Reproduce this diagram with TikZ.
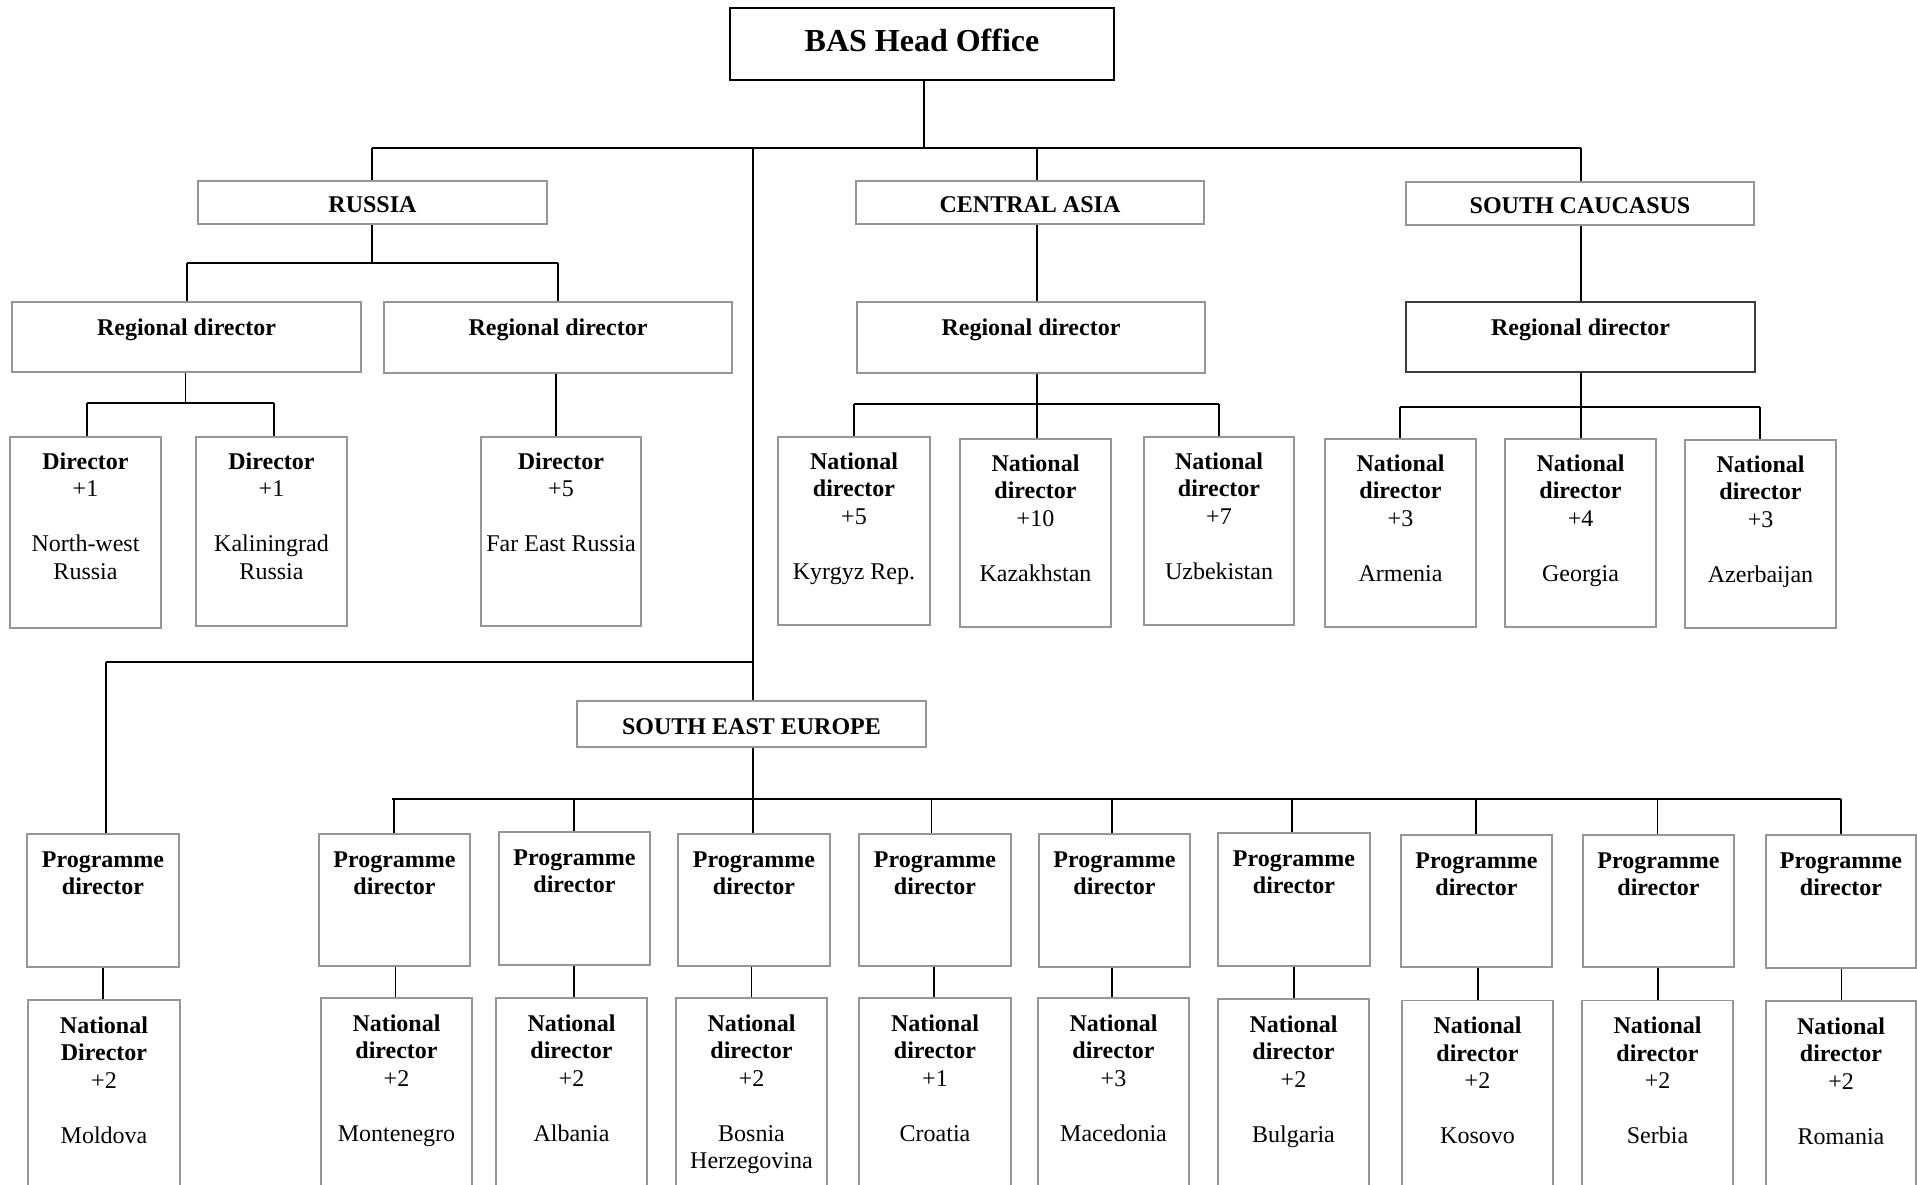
\documentclass[tikz,border=0pt]{standalone}
\usepackage{fontspec}
\setmainfont{Liberation Serif}
\usetikzlibrary{fit}
\definecolor{boxgray}{RGB}{150,150,150}
\definecolor{darkgray}{RGB}{60,60,60}
\newcommand\bx[6][box]{\node[#1, fit={(#3,#4) (#5,#6)}] (#2) {};}
\newcommand\tx[3][17]{\node[lbl] (#2-t) at ([yshift=-#1pt]#2.north) {#3};}
\newcommand\vlink[3]{\draw[conn] (#1.south -| #3,0) -- (#2.north -| #3,0);}
\newcommand\drop[3]{\draw[conn] (#1 -| #3,0) -- (#2.north -| #3,0);}
\tikzset{
  box/.style={draw=boxgray, line width=1.4pt, inner sep=0pt},
  darkbox/.style={draw=darkgray, line width=2.2pt, inner sep=0pt},
  headbox/.style={draw=black, line width=2pt, inner sep=0pt},
  conn/.style={draw=black, line width=1.6pt},
  bus/.style={draw=black, line width=2.4pt},
  lbl/.style={align=center, inner sep=0pt, anchor=north, font=\fontsize{24}{27.5}\selectfont},
  hdr/.style={inner sep=0pt, font=\fontsize{24}{27.5}\selectfont\bfseries},
}
\begin{document}
\begin{tikzpicture}[x=1pt,y=-1pt]
\useasboundingbox (0,0) rectangle (1917,1185);
\clip (0,0) rectangle (1917,1185);
% ---------- top ----------
\bx[headbox]{ho}{730}{8}{1114}{80}
\node[hdr, font=\fontsize{32}{36}\selectfont\bfseries] (ho-t) at ([yshift=4pt]ho.center) {BAS Head Office};
\bx{ru}{198}{181}{547}{224}
\node[hdr] (ru-t) at ([yshift=-2.5pt]ru.center) {RUSSIA};
\bx{ca}{856}{181}{1204}{224}
\node[hdr] (ca-t) at ([yshift=-2.5pt]ca.center) {CENTRAL ASIA};
\bx{sc}{1406}{182}{1754}{225}
\node[hdr] (sc-t) at ([yshift=-2.5pt]sc.center) {SOUTH CAUCASUS};
\bx{see}{577}{701}{926}{747}
\node[hdr] (see-t) at ([yshift=-2.5pt]see.center) {SOUTH EAST EUROPE};

\coordinate (tbL) at (372,148);
\coordinate (tbR) at (1581,148);
\coordinate (tbH) at (924,148);
\coordinate (tbS) at (753,148);
\coordinate (tbC) at (1037,148);
\draw[bus] (tbL) -- (tbR);
\draw[conn] (ho.south -| tbH) -- (tbH);
\draw[conn] (tbL) -- (tbL |- ru.north);
\draw[conn] (tbC) -- (tbC |- ca.north);
\draw[conn] (tbR) -- (tbR |- sc.north);
\draw[conn] (tbS) -- (tbS |- see.north);

% ---------- Russia ----------
\bx{rd1}{12}{302}{361}{372}
\tx{rd1}{\textbf{Regional director}}
\bx{rd2}{384}{302}{732}{373}
\tx{rd2}{\textbf{Regional director}}
\coordinate (rbL) at (187,263);
\coordinate (rbR) at (558,263);
\coordinate (rbM) at (372,263);
\draw[conn] (ru.south -| rbM) -- (rbM);
\draw[bus] (rbL) -- (rbR);
\drop{rbL}{rd1}{187}
\drop{rbR}{rd2}{558}
\bx{d1}{10}{437}{161}{628}
\tx[16]{d1}{\textbf{Director}\\+1\\[27.5pt]North-west\\Russia}
\bx{d2}{196}{437}{347}{626}
\tx[16]{d2}{\textbf{Director}\\+1\\[27.5pt]Kaliningrad\\Russia}
\bx{d3}{481}{437}{641}{626}
\tx[16]{d3}{\textbf{Director}\\+5\\[27.5pt]Far East Russia}
\coordinate (dbL) at (87,403);
\coordinate (dbR) at (274,403);
\coordinate (dbM) at (185.5,403);
\draw[conn] (rd1.south -| dbM) -- (dbM);
\draw[bus] (dbL) -- (dbR);
\drop{dbL}{d1}{87}
\drop{dbR}{d2}{274}
\vlink{rd2}{d3}{556}

% ---------- Central Asia ----------
\bx{rdca}{857}{302}{1205}{373}
\tx{rdca}{\textbf{Regional director}}
\vlink{ca}{rdca}{1037}
\coordinate (cbL) at (854,404);
\coordinate (cbR) at (1219,404);
\coordinate (cbM) at (1037,404);
\draw[conn] (rdca.south -| cbM) -- (cbM);
\draw[bus] (cbL) -- (cbR);
\bx{ca1}{778}{437}{930}{625}
\tx[16]{ca1}{\textbf{National}\\\textbf{director}\\+5\\[27.5pt]Kyrgyz Rep.}
\bx{ca2}{960}{439}{1111}{627}
\tx[16]{ca2}{\textbf{National}\\\textbf{director}\\+10\\[27.5pt]Kazakhstan}
\bx{ca3}{1144}{437}{1294}{625}
\tx[16]{ca3}{\textbf{National}\\\textbf{director}\\+7\\[27.5pt]Uzbekistan}
\drop{cbL}{ca1}{854}
\drop{cbM}{ca2}{1037}
\drop{cbR}{ca3}{1219}

% ---------- South Caucasus ----------
\bx[darkbox]{rdsc}{1406}{302}{1755}{372}
\tx[18]{rdsc}{\textbf{Regional director}}
\vlink{sc}{rdsc}{1581}
\coordinate (sbL) at (1400,407);
\coordinate (sbR) at (1760,407);
\coordinate (sbM) at (1581,407);
\draw[conn] (rdsc.south -| sbM) -- (sbM);
\draw[bus] (sbL) -- (sbR);
\bx{sc1}{1325}{439}{1476}{627}
\tx[16]{sc1}{\textbf{National}\\\textbf{director}\\+3\\[27.5pt]Armenia}
\bx{sc2}{1505}{439}{1656}{627}
\tx[16]{sc2}{\textbf{National}\\\textbf{director}\\+4\\[27.5pt]Georgia}
\bx{sc3}{1685}{440}{1836}{628}
\tx[16]{sc3}{\textbf{National}\\\textbf{director}\\+3\\[27.5pt]Azerbaijan}
\drop{sbL}{sc1}{1400}
\drop{sbM}{sc2}{1581}
\drop{sbR}{sc3}{1760}

% ---------- Moldova ----------
\coordinate (mj) at (753,662);
\coordinate (mL) at (106,662);
\draw[bus] (mj) -- (mL);
\bx{mpd}{27}{834}{179}{967}
\tx[18]{mpd}{\textbf{Programme}\\\textbf{director}}
\drop{mL}{mpd}{106}
\bx{mnd}{28}{1000}{180}{1200}
\tx[17]{mnd}{\textbf{National}\\\textbf{Director}\\+2\\[27.5pt]Moldova}
\vlink{mpd}{mnd}{103}

% ---------- South East Europe ----------
\coordinate (ebL) at (392,799);
\coordinate (ebR) at (1841,799);
\coordinate (ebM) at (753,799);
\draw[conn] (see.south -| ebM) -- (ebM);
\draw[bus] (ebL) -- (ebR);

\bx{p1}{319}{834}{470}{966}
\bx{p2}{499}{832}{650}{965}
\bx{p3}{678}{834}{830}{966}
\bx{p4}{859}{834}{1011}{966}
\bx{p5}{1039}{834}{1190}{967}
\bx{p6}{1218}{833}{1370}{966}
\bx{p7}{1401}{835}{1552}{967}
\bx{p8}{1583}{835}{1734}{967}
\bx{p9}{1766}{835}{1916}{968}
\foreach \p in {p1,p2,p3,p4,p5,p6,p7,p8,p9}{
  \tx[18]{\p}{\textbf{Programme}\\\textbf{director}}
}
\drop{ebL}{p1}{394}
\drop{ebL}{p2}{574}
\drop{ebM}{p3}{753}
\drop{ebL}{p4}{931.5}
\drop{ebL}{p5}{1112}
\drop{ebL}{p6}{1292}
\drop{ebL}{p7}{1476}
\drop{ebL}{p8}{1657.5}
\drop{ebR}{p9}{1841}

\bx{n1}{321}{998}{472}{1200}
\tx{n1}{\textbf{National}\\\textbf{director}\\+2\\[27.5pt]Montenegro}
\bx{n2}{496}{998}{647}{1200}
\tx{n2}{\textbf{National}\\\textbf{director}\\+2\\[27.5pt]Albania}
\bx{n3}{676}{998}{827}{1200}
\tx{n3}{\textbf{National}\\\textbf{director}\\+2\\[27.5pt]Bosnia\\Herzegovina}
\bx{n4}{859}{998}{1011}{1200}
\tx{n4}{\textbf{National}\\\textbf{director}\\+1\\[27.5pt]Croatia}
\bx{n5}{1038}{998}{1189}{1200}
\tx{n5}{\textbf{National}\\\textbf{director}\\+3\\[27.5pt]Macedonia}
\bx{n6}{1218}{999}{1369}{1200}
\tx{n6}{\textbf{National}\\\textbf{director}\\+2\\[27.5pt]Bulgaria}
\bx{n7}{1402}{1000.5}{1553}{1200}
\tx{n7}{\textbf{National}\\\textbf{director}\\+2\\[27.5pt]Kosovo}
\bx{n8}{1582}{1000.5}{1733}{1200}
\tx{n8}{\textbf{National}\\\textbf{director}\\+2\\[27.5pt]Serbia}
\bx{n9}{1766}{1001}{1916}{1200}
\tx{n9}{\textbf{National}\\\textbf{director}\\+2\\[27.5pt]Romania}

\vlink{p1}{n1}{395.5}
\vlink{p2}{n2}{574}
\vlink{p3}{n3}{751.5}
\vlink{p4}{n4}{934}
\vlink{p5}{n5}{1112}
\vlink{p6}{n6}{1294}
\vlink{p7}{n7}{1478}
\vlink{p8}{n8}{1658}
\vlink{p9}{n9}{1841.5}
\end{tikzpicture}
\end{document}
